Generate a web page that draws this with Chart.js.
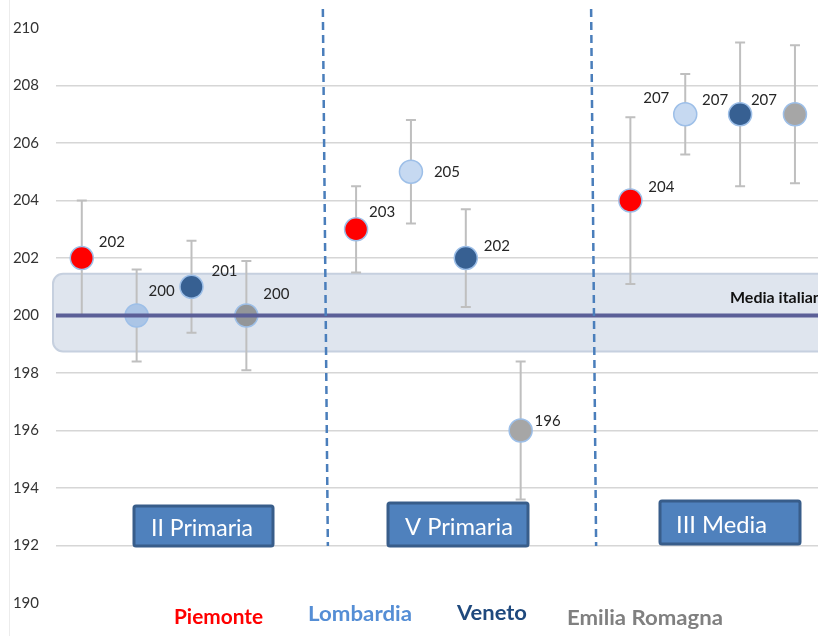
<!DOCTYPE html>
<html>
<head>
<meta charset="utf-8">
<script src="https://cdn.jsdelivr.net/npm/chart.js@4.4.1/dist/chart.umd.min.js"></script>
<style>
  html, body { margin: 0; padding: 0; background: #fff; overflow: hidden; }
  #wrap { width: 818px; height: 636px; position: relative; }
  #scoreChart { display: block; }
</style>
</head>
<body>
<div id="wrap"><canvas id="scoreChart"></canvas></div>
<script>
// gradi scolastici e regioni
const grades = ["II Primaria", "V Primaria", "III Media"];
const regions = ["Piemonte", "Lombardia", "Veneto", "Emilia Romagna"];

// punteggi medi (uno per grado)
const piemonte = [202, 203, 204];
const lombardia = [200, 205, 207];
const veneto = [201, 202, 207];
const emilia = [200, 196, 207];

// estremi degli intervalli
const piemonteLow = [200.0, 201.5, 201.1];
const piemonteHigh = [204.0, 204.5, 206.9];
const lombardiaLow = [198.4, 203.2, 205.6];
const lombardiaHigh = [201.6, 206.8, 208.4];
const venetoLow = [199.4, 200.3, 204.5];
const venetoHigh = [202.6, 203.7, 209.5];
const emiliaLow = [198.1, 193.6, 204.6];
const emiliaHigh = [201.9, 198.4, 209.4];

// media italiana e relativa fascia
const mediaItalia = 200;
const mediaBand = [198.75, 201.45];

// asse y
const yMin = 190;
const yMax = 210;
const yStep = 2;

// colori dei punti (uno per grado) e della legenda
const fillColors = [
  ["#ff0000", "#ff0000", "#ff0000"],
  ["#abc5e6", "#c6d9f1", "#c6d9f1"],
  ["#376092", "#376092", "#376092"],
  ["#939699", "#a6a6a6", "#a6a6a6"],
];
const legendColors = ["#ff0000", "#558ed5", "#1f497d", "#808080"];

// impaginazione (solo posizioni, niente dati)
const groupGap = 5; // posizione x = grado * 5 + regione
const separators = [4.44, 9.33];
const labelOffsets = [
  [[30, -16], [26, -17], [31, -13]],
  [[25, -24], [36, 0], [-29, -16]],
  [[33, -16], [31, -12], [-25, -14]],
  [[30, -21], [27, -9], [-31, -14]],
];
const boxes = [
  { x: 134, y: 506, w: 139, h: 40, tx: 151, ty: 528, tw: 102 },
  { x: 388, y: 503, w: 140, h: 43, tx: 405, ty: 527, tw: 108 },
  { x: 660, y: 501, w: 140, h: 43, tx: 676, ty: 525, tw: 91 },
];
const legendPos = [
  { x: 174, y: 618, w: 89 },
  { x: 308, y: 615, w: 104 },
  { x: 457, y: 614, w: 70 },
  { x: 567, y: 619, w: 156 },
];

const values = [piemonte, lombardia, veneto, emilia];
const lows = [piemonteLow, lombardiaLow, venetoLow, emiliaLow];
const highs = [piemonteHigh, lombardiaHigh, venetoHigh, emiliaHigh];

const datasets = regions.map((name, r) => ({
  label: name,
  data: values[r].map((v, g) => ({ x: g * groupGap + r, y: v })),
  backgroundColor: fillColors[r],
  borderColor: "#9dbfe8",
  borderWidth: 1.5,
  pointRadius: 11.5,
  pointHoverRadius: 11.5,
  showLine: false,
}));

// testo stretto orizzontalmente fino alla larghezza voluta
function fillFit(ctx, text, x, y, width) {
  const w = ctx.measureText(text).width;
  const s = Math.min(1.3, width / w);
  ctx.save();
  ctx.translate(x, y);
  ctx.scale(s, 1);
  ctx.fillText(text, 0, 0);
  ctx.restore();
}

// fascia media e barre d'errore sotto i punti
const underlay = {
  id: "underlay",
  beforeDraw(chart) {
    const ctx = chart.ctx;
    ctx.save();
    ctx.strokeStyle = "#ececec";
    ctx.lineWidth = 1;
    ctx.beginPath();
    ctx.moveTo(9.5, 0);
    ctx.lineTo(9.5, 636);
    ctx.stroke();
    ctx.restore();
  },
  beforeDatasetsDraw(chart) {
    const { ctx, scales } = chart;
    ctx.save();

    const bTop = scales.y.getPixelForValue(mediaBand[1]);
    const bBot = scales.y.getPixelForValue(mediaBand[0]);
    ctx.beginPath();
    ctx.roundRect(53, bTop, 820, bBot - bTop, 10);
    ctx.fillStyle = "#dfe5ee";
    ctx.fill();
    ctx.strokeStyle = "#c6d0df";
    ctx.lineWidth = 2;
    ctx.stroke();

    ctx.strokeStyle = "#bfbfbf";
    ctx.lineWidth = 2;
    regions.forEach((name, r) => {
      values[r].forEach((v, g) => {
        const x = scales.x.getPixelForValue(g * groupGap + r);
        const yLo = scales.y.getPixelForValue(lows[r][g]);
        const yHi = scales.y.getPixelForValue(highs[r][g]);
        ctx.beginPath();
        ctx.moveTo(x, yLo);
        ctx.lineTo(x, yHi);
        ctx.moveTo(x - 5, yLo);
        ctx.lineTo(x + 5, yLo);
        ctx.moveTo(x - 5, yHi);
        ctx.lineTo(x + 5, yHi);
        ctx.stroke();
      });
    });
    ctx.restore();
  },
};

// linea media, separatori, etichette, riquadri e legenda
const overlays = {
  id: "overlays",
  afterDatasetsDraw(chart) {
    const { ctx, scales, chartArea } = chart;
    const yS = scales.y;
    const xS = scales.x;
    ctx.save();

    // linea media italiana
    const yM = yS.getPixelForValue(mediaItalia);
    ctx.beginPath();
    ctx.moveTo(chartArea.left, yM);
    ctx.lineTo(chartArea.right, yM);
    ctx.strokeStyle = "#5b5f97";
    ctx.lineWidth = 4;
    ctx.stroke();

    ctx.fillStyle = "#111";
    ctx.font = "bold 16px Lato";
    ctx.textAlign = "left";
    ctx.textBaseline = "middle";
    ctx.fillText("Media italiana", 730, 298);

    // separatori tratteggiati
    ctx.strokeStyle = "#4a7ebb";
    ctx.lineWidth = 2.5;
    ctx.setLineDash([8, 5]);
    separators.forEach((s) => {
      const x = xS.getPixelForValue(s);
      ctx.beginPath();
      ctx.moveTo(x - 2.5, 9);
      ctx.lineTo(x + 2.5, 546);
      ctx.stroke();
    });
    ctx.setLineDash([]);

    // etichette dei valori
    ctx.fillStyle = "#262626";
    ctx.font = "15px Lato";
    ctx.textAlign = "center";
    regions.forEach((name, r) => {
      values[r].forEach((v, g) => {
        const x = xS.getPixelForValue(g * groupGap + r);
        const y = yS.getPixelForValue(v);
        const off = labelOffsets[r][g];
        ctx.fillText(String(Math.round(v)), x + off[0], y + off[1]);
      });
    });

    // riquadri dei gradi
    grades.forEach((gName, g) => {
      const b = boxes[g];
      ctx.beginPath();
      ctx.roundRect(b.x, b.y, b.w, b.h, 2);
      ctx.fillStyle = "#4f81bd";
      ctx.fill();
      ctx.strokeStyle = "#385d8a";
      ctx.lineWidth = 3;
      ctx.stroke();
      ctx.fillStyle = "#ffffff";
      ctx.font = "24px Lato";
      ctx.textAlign = "left";
      fillFit(ctx, gName, b.tx, b.ty, b.tw);
    });

    // legenda
    ctx.font = "bold 20px Lato";
    ctx.textAlign = "left";
    regions.forEach((name, r) => {
      ctx.fillStyle = legendColors[r];
      fillFit(ctx, name, legendPos[r].x, legendPos[r].y, legendPos[r].w);
    });

    ctx.restore();
  },
};

new Chart(document.getElementById("scoreChart"), {
  type: "scatter",
  data: { datasets: datasets },
  options: {
    responsive: true,
    maintainAspectRatio: false,
    animation: false,
    layout: {
      autoPadding: false,
      padding: { top: 28, bottom: 33, left: 0, right: 0 },
    },
    plugins: {
      legend: { display: false },
      tooltip: { enabled: false },
    },
    scales: {
      x: {
        type: "linear",
        min: -0.47,
        max: 13.42,
        display: false,
      },
      y: {
        min: yMin,
        max: yMax,
        afterFit(scale) {
          scale.width = 56;
        },
        ticks: {
          stepSize: yStep,
          padding: 17,
          color: "#333",
          font: { family: "Lato", size: 15 },
        },
        border: { display: false },
        grid: {
          drawTicks: false,
          lineWidth: 1.5,
          color: (c) =>
            c.tick && (c.tick.value === yMin || c.tick.value === yMax)
              ? "rgba(0,0,0,0)"
              : "#d6d6d6",
        },
      },
    },
  },
  plugins: [underlay, overlays],
});
</script>
</body>
</html>
